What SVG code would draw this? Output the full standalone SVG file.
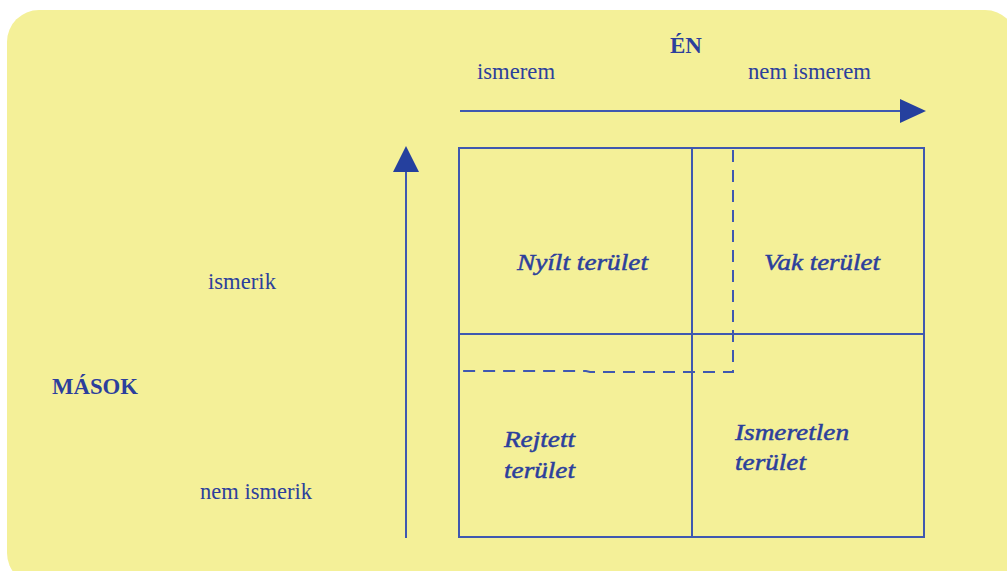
<svg xmlns="http://www.w3.org/2000/svg" width="1007" height="571" viewBox="0 0 1007 571">
<defs>
<style>
.ln{stroke:#3f58b0;stroke-width:2;fill:none}
.ds{stroke:#3f58b0;stroke-width:2;fill:none;stroke-dasharray:12 8}
.t{font-family:"Liberation Serif","Times New Roman",serif;fill:#2c3f9c;font-size:23px}
.b{font-weight:bold}
.i{font-style:italic;font-size:24px;stroke:#2c3f9c;stroke-width:0.5}
</style>
</defs>
<rect x="0" y="0" width="1007" height="571" fill="#ffffff"/>
<rect x="7" y="10" width="1010" height="575" rx="32" fill="#f4f098"/>
<g id="connectors">
<line class="ln" x1="460" y1="111" x2="902" y2="111"/>
<polygon points="900,99 926,111 900,123" fill="#25409e"/>
<line class="ln" x1="406" y1="538" x2="406" y2="168"/>
<polygon points="393,172 406,146 419,172" fill="#25409e"/>
</g>
<g id="grid">
<rect class="ln" x="459" y="148" width="465" height="389"/>
<line class="ln" x1="692" y1="148" x2="692" y2="537"/>
<line class="ln" x1="459" y1="334" x2="924" y2="334"/>
<polyline class="ds" points="733,150 733,372 590,372 586,371 459,371"/>
</g>
<g id="en"><text class="t b" x="686" y="53" font-size="25" text-anchor="middle">ÉN</text></g>
<g id="ismerem"><text class="t" x="477" y="79" textLength="78" lengthAdjust="spacingAndGlyphs">ismerem</text></g>
<g id="nem-ismerem"><text class="t" x="748" y="79" textLength="123" lengthAdjust="spacingAndGlyphs">nem ismerem</text></g>
<g id="nyilt"><text class="t i" x="517" y="270" textLength="131" lengthAdjust="spacingAndGlyphs">Nyílt terület</text></g>
<g id="vak"><text class="t i" x="764" y="270" textLength="116" lengthAdjust="spacingAndGlyphs">Vak terület</text></g>
<g id="rejtett"><text class="t i" x="504" y="447" textLength="71" lengthAdjust="spacingAndGlyphs">Rejtett</text><text class="t i" x="504" y="478" textLength="71" lengthAdjust="spacingAndGlyphs">terület</text></g>
<g id="ismeretlen"><text class="t i" x="735" y="440" textLength="114" lengthAdjust="spacingAndGlyphs">Ismeretlen</text><text class="t i" x="735" y="470" textLength="71" lengthAdjust="spacingAndGlyphs">terület</text></g>
<g id="ismerik"><text class="t" x="208" y="289" textLength="68" lengthAdjust="spacingAndGlyphs">ismerik</text></g>
<g id="masok"><text class="t b" x="52" y="394" font-size="21" textLength="86" lengthAdjust="spacingAndGlyphs">MÁSOK</text></g>
<g id="nem-ismerik"><text class="t" x="200" y="499" textLength="112" lengthAdjust="spacingAndGlyphs">nem ismerik</text></g>
</svg>
